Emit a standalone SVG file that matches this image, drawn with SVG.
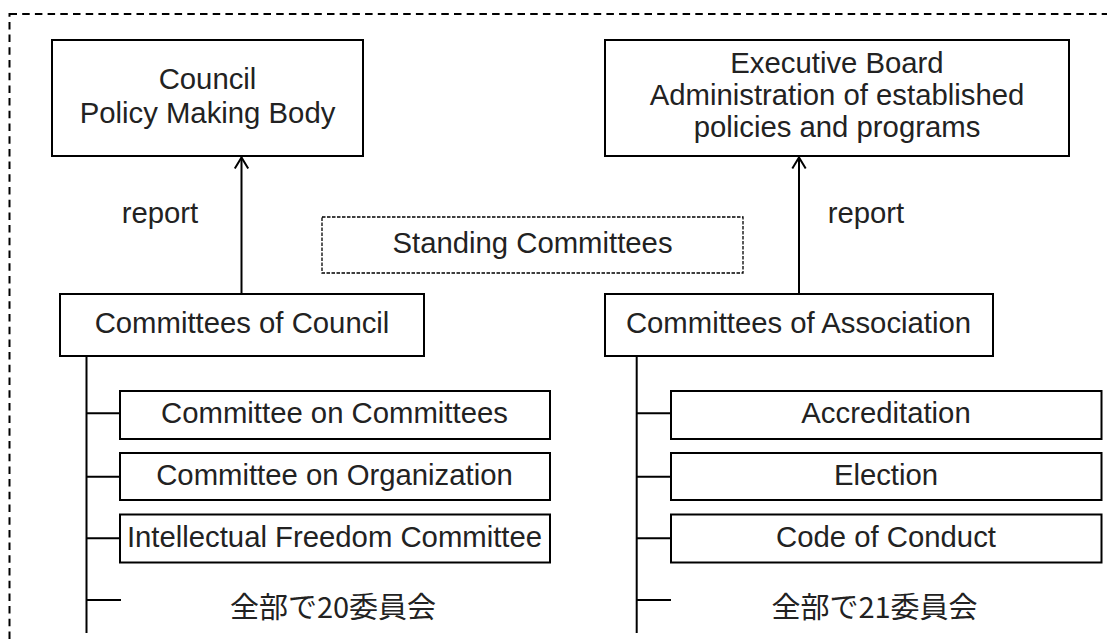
<svg xmlns="http://www.w3.org/2000/svg" width="1107" height="644" viewBox="0 0 1107 644">
<defs>
<style>
.box{fill:#fff;stroke:#000;stroke-width:2}
.t{font-family:"Liberation Sans",Arial,sans-serif;font-size:29.3px;fill:#222;text-anchor:middle}
.j{font-family:"Noto Sans CJK JP","Noto Sans CJK SC",sans-serif;font-size:29px;fill:#222;text-anchor:middle}
.ln{stroke:#000;stroke-width:2;fill:none}
</style>
<marker id="arr" markerUnits="userSpaceOnUse" markerWidth="20" markerHeight="20" refX="0" refY="0" orient="auto" viewBox="-14 -10 16 20" overflow="visible">
<path d="M-11 -6.7 L0 0 L-11 6.7" fill="none" stroke="#000" stroke-width="2"/>
</marker>
</defs>
<rect width="1107" height="644" fill="#fff"/>
<rect id="frame" x="9.5" y="14" width="1200" height="700" fill="none" stroke="#000" stroke-width="2" stroke-dasharray="7.5 5.2"/>
<g id="connectors">
<line class="ln" x1="241.5" y1="294" x2="241.5" y2="157.5" marker-end="url(#arr)"/>
<line class="ln" x1="799" y1="294" x2="799" y2="157.5" marker-end="url(#arr)"/>
<line class="ln" x1="86.5" y1="356" x2="86.5" y2="633"/>
<line class="ln" x1="86.5" y1="413.3" x2="120" y2="413.3"/>
<line class="ln" x1="86.5" y1="476.7" x2="120" y2="476.7"/>
<line class="ln" x1="86.5" y1="538.3" x2="120" y2="538.3"/>
<line class="ln" x1="86.5" y1="600" x2="121" y2="600"/>
<line class="ln" x1="636.7" y1="356" x2="636.7" y2="633"/>
<line class="ln" x1="636.7" y1="413.3" x2="671" y2="413.3"/>
<line class="ln" x1="636.7" y1="476.7" x2="671" y2="476.7"/>
<line class="ln" x1="636.7" y1="538.3" x2="671" y2="538.3"/>
<line class="ln" x1="636.7" y1="600" x2="671" y2="600"/>
</g>
<g id="council">
<rect class="box" x="52" y="40" width="311" height="116"/>
<text class="t" x="207.5" y="89">Council</text>
<text class="t" x="207.5" y="123">Policy Making Body</text>
</g>
<g id="executive-board">
<rect class="box" x="605" y="40" width="464" height="116"/>
<text class="t" x="837" y="73">Executive Board</text>
<text class="t" x="837" y="105">Administration of established</text>
<text class="t" x="837" y="137">policies and programs</text>
</g>
<g id="report-left"><text class="t" x="160" y="222.5">report</text></g>
<g id="report-right"><text class="t" x="866" y="222.5">report</text></g>
<g id="standing-committees">
<rect x="322" y="217" width="421" height="56" fill="#fff" stroke="#000" stroke-width="1.3" stroke-dasharray="3.5 1.5"/>
<text class="t" x="532.5" y="253">Standing Committees</text>
</g>
<g id="committees-of-council">
<rect class="box" x="60" y="294" width="364" height="62"/>
<text class="t" x="242" y="333">Committees of Council</text>
</g>
<g id="committees-of-association">
<rect class="box" x="605" y="294" width="388" height="62"/>
<text class="t" x="798.5" y="333">Committees of Association</text>
</g>
<g id="committee-on-committees">
<rect class="box" x="120" y="391" width="430" height="48"/>
<text class="t" x="334.5" y="423">Committee on Committees</text>
</g>
<g id="committee-on-organization">
<rect class="box" x="120" y="453" width="430" height="47"/>
<text class="t" x="334.5" y="485">Committee on Organization</text>
</g>
<g id="intellectual-freedom-committee">
<rect class="box" x="120" y="514.5" width="430" height="48"/>
<text class="t" x="334.5" y="546.5">Intellectual Freedom Committee</text>
</g>
<g id="total-20"><text class="j" x="333" y="618">全部で20委員会</text></g>
<g id="accreditation">
<rect class="box" x="671" y="391" width="430.5" height="48"/>
<text class="t" x="886" y="423">Accreditation</text>
</g>
<g id="election">
<rect class="box" x="671" y="453" width="430.5" height="47"/>
<text class="t" x="886" y="485">Election</text>
</g>
<g id="code-of-conduct">
<rect class="box" x="671" y="514.5" width="430.5" height="48"/>
<text class="t" x="886" y="546.5">Code of Conduct</text>
</g>
<g id="total-21"><text class="j" x="874.5" y="618">全部で21委員会</text></g>
</svg>
